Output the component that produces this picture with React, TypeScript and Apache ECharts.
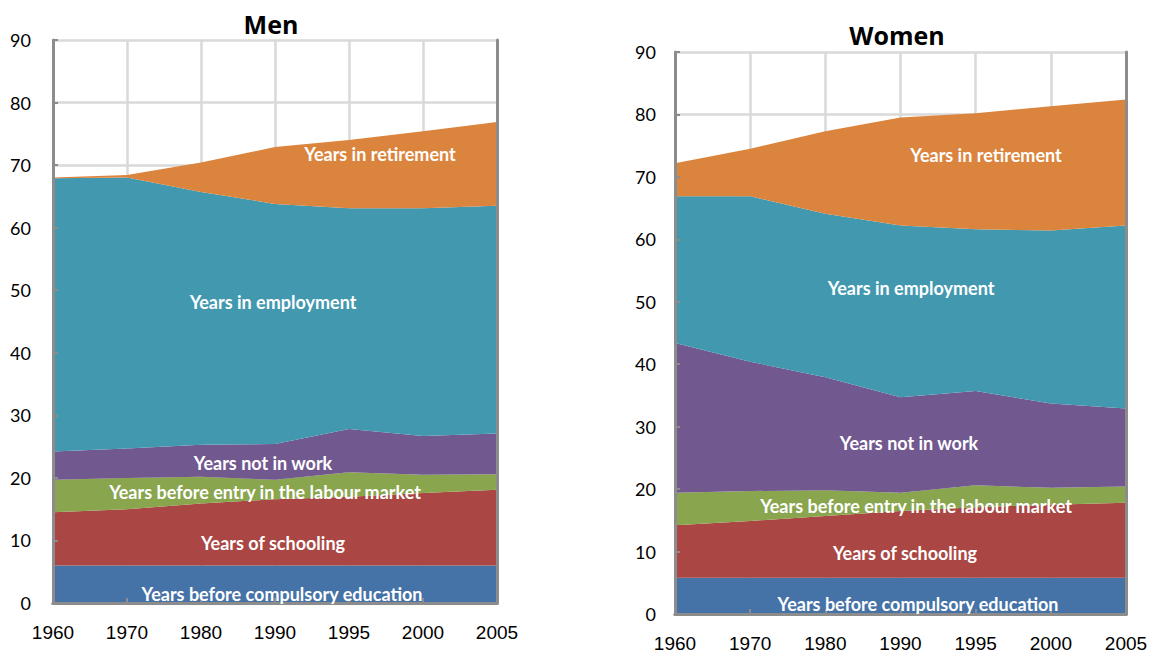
import React, { useEffect, useRef } from "react";
import * as echarts from "echarts";

const years = ["1960", "1970", "1980", "1990", "1995", "2000", "2005"];

const seriesNames = [
  "Years before compulsory education",
  "Years of schooling",
  "Years before entry in the labour market",
  "Years not in work",
  "Years in employment",
  "Years in retirement",
];
const colors = ["#4572A7", "#AA4643", "#89A54E", "#71588F", "#4198AF", "#DB843D"];

// Men
const menCompulsory = [6.0, 6.0, 6.0, 6.0, 6.0, 6.0, 6.0];
const menSchooling = [8.5, 9.0, 9.9, 10.6, 11.0, 11.6, 12.1];
const menBeforeEntry = [5.2, 5.0, 4.3, 3.1, 3.9, 2.9, 2.5];
const menNotInWork = [4.5, 4.7, 5.1, 5.7, 6.9, 6.2, 6.5];
const menEmployment = [43.7, 43.3, 40.4, 38.4, 35.3, 36.4, 36.4];
const menRetirement = [0.1, 0.4, 4.7, 9.1, 10.9, 12.3, 13.4];

// Women
const womenCompulsory = [5.8, 5.8, 5.8, 5.8, 5.8, 5.8, 5.8];
const womenSchooling = [8.4, 9.1, 9.9, 10.7, 11.3, 11.7, 12.0];
const womenBeforeEntry = [5.2, 4.8, 4.1, 2.9, 3.5, 2.7, 2.6];
const womenNotInWork = [24.0, 20.7, 18.1, 15.3, 15.1, 13.5, 12.5];
const womenEmployment = [23.5, 26.5, 26.2, 27.5, 25.9, 27.7, 29.3];
const womenRetirement = [5.3, 7.6, 13.2, 17.3, 18.6, 19.9, 20.2];

const menData = [menCompulsory, menSchooling, menBeforeEntry, menNotInWork, menEmployment, menRetirement];
const womenData = [womenCompulsory, womenSchooling, womenBeforeEntry, womenNotInWork, womenEmployment, womenRetirement];

const menLabelPos = [
  [282, 594], [273, 543], [265, 492], [263, 463], [273, 302], [380, 154],
];
const womenLabelPos = [
  [918, 604], [905, 553], [916, 506], [909, 443], [911, 288], [986, 155],
];

export default function App() {
  const ref = useRef<HTMLDivElement>(null);
  useEffect(() => {
    document.body.style.margin = "0";
    const chart = echarts.init(ref.current!, null, { renderer: "svg" });
    const grids = [
      { left: 53, top: 40, width: 444, height: 563 },
      { left: 675, top: 52, width: 451, height: 562 },
    ];
    const frameColor = "#8C8C8C";
    const gridLineColor = "#D9D9D9";
    const xAxes: any[] = [];
    const yAxes: any[] = [];
    grids.forEach((_, gi) => {
      // bottom axis with labels (on top of areas)
      xAxes.push({
        type: "category",
        gridIndex: gi,
        data: years,
        boundaryGap: false,
        axisLine: { show: true, lineStyle: { color: frameColor, width: 3 } },
        axisTick: { show: true, inside: true, length: 5, lineStyle: { color: frameColor, width: 2 } },
        axisLabel: { color: "#000", fontFamily: "Liberation Sans", fontSize: 19, margin: 20 },
        splitLine: { show: false },
        z: 5,
      });
      // top frame
      xAxes.push({
        type: "category",
        gridIndex: gi,
        data: years,
        boundaryGap: false,
        position: "top",
        axisLine: { show: true, lineStyle: { color: frameColor, width: 3 } },
        axisTick: { show: false },
        axisLabel: { show: false },
        splitLine: { show: false },
        z: 5,
      });
      // vertical gridlines (behind areas)
      xAxes.push({
        type: "category",
        gridIndex: gi,
        data: years,
        boundaryGap: false,
        axisLine: { show: false },
        axisTick: { show: false },
        axisLabel: { show: false },
        splitLine: { show: true, lineStyle: { color: gridLineColor, width: 2.5 } },
        z: 0,
      });
      yAxes.push({
        type: "value",
        gridIndex: gi,
        min: 0,
        max: 90,
        interval: 10,
        axisLine: { show: true, lineStyle: { color: frameColor, width: 3 } },
        axisTick: { show: true, inside: true, length: 5, lineStyle: { color: frameColor, width: 2 } },
        axisLabel: { color: "#000", fontFamily: "Lato", fontSize: 18, margin: gi === 0 ? 22 : 19 },
        splitLine: { show: false },
        z: 5,
      });
      yAxes.push({
        type: "value",
        gridIndex: gi,
        min: 0,
        max: 90,
        interval: 10,
        position: "right",
        axisLine: { show: true, lineStyle: { color: frameColor, width: 3 } },
        axisTick: { show: false },
        axisLabel: { show: false },
        splitLine: { show: false },
        z: 5,
      });
      yAxes.push({
        type: "value",
        gridIndex: gi,
        min: 0,
        max: 90,
        interval: 10,
        axisLine: { show: false },
        axisTick: { show: false },
        axisLabel: { show: false },
        splitLine: { show: true, lineStyle: { color: gridLineColor, width: 2.5 } },
        z: 0,
      });
    });

    const series: any[] = [];
    [menData, womenData].forEach((data, gi) => {
      data.forEach((vals, i) => {
        series.push({
          type: "line",
          name: seriesNames[i],
          xAxisIndex: gi * 3,
          yAxisIndex: gi * 3,
          stack: "s" + gi,
          data: vals,
          symbol: "none",
          lineStyle: { width: 0 },
          areaStyle: { color: colors[i], opacity: 1 },
          itemStyle: { color: colors[i] },
          z: 2,
        });
      });
    });

    const labelStyle = {
      fill: "#fff",
      fontFamily: "Lato",
      fontWeight: "bold",
      fontSize: 18,
      align: "center",
      verticalAlign: "middle",
    };
    const graphics: any[] = [];
    [menLabelPos, womenLabelPos].forEach((pos) => {
      pos.forEach((p, i) => {
        graphics.push({
          type: "text",
          x: p[0],
          y: p[1],
          z: 100,
          style: { ...labelStyle, text: seriesNames[i] },
        });
      });
    });

    chart.setOption({
      animation: false,
      title: [
        {
          text: "Men",
          left: 266,
          top: 6,
          textAlign: "center",
          textStyle: { fontFamily: "Open Sans", fontWeight: "bold", fontSize: 25, color: "#000" },
        },
        {
          text: "Women",
          left: 892,
          top: 17,
          textAlign: "center",
          textStyle: { fontFamily: "Open Sans", fontWeight: "bold", fontSize: 25, color: "#000" },
        },
      ],
      grid: grids,
      xAxis: xAxes,
      yAxis: yAxes,
      series,
      graphic: graphics,
    });
    return () => chart.dispose();
  }, []);
  return <div ref={ref} style={{ width: 1158, height: 657 }} />;
}
